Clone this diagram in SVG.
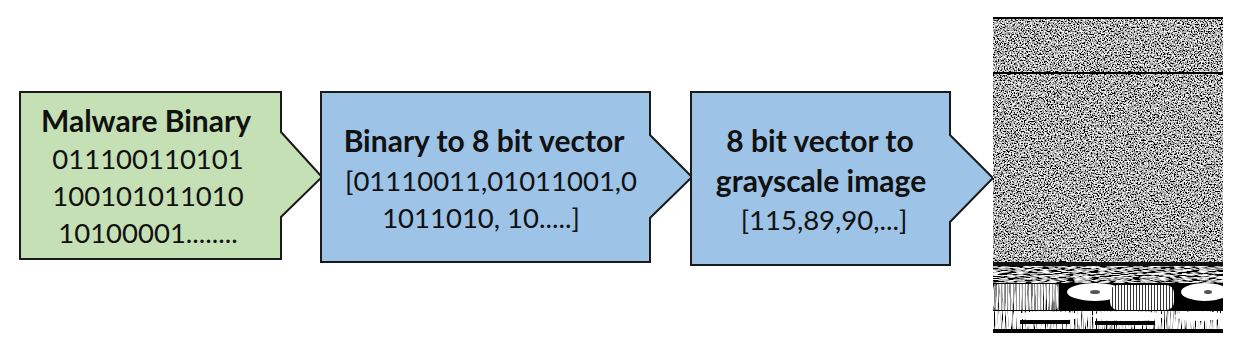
<svg xmlns="http://www.w3.org/2000/svg" width="1246" height="346" viewBox="0 0 1246 346">
<style>
.box{stroke:#1a1a1a;stroke-width:2;stroke-linejoin:miter}
.green{fill:#C5E0B4}
.blue{fill:#9DC3E6}
.t{font-family:Lato,"Liberation Sans",sans-serif;fill:#111;text-anchor:middle}
.b{font-weight:bold;font-size:30px}
.r{font-size:27.5px}
</style>
<defs>
<filter id="noise" filterUnits="objectBoundingBox" x="0" y="0" width="1" height="1">
<feTurbulence type="fractalNoise" baseFrequency="0.7" numOctaves="2" seed="7" result="t"/>
<feColorMatrix in="t" type="matrix" values="1 0 0 0 0  1 0 0 0 0  1 0 0 0 0  0 0 0 0 1"/>
<feComponentTransfer>
<feFuncR type="linear" slope="3.4" intercept="-1.25"/>
<feFuncG type="linear" slope="3.4" intercept="-1.25"/>
<feFuncB type="linear" slope="3.4" intercept="-1.25"/>
</feComponentTransfer>
</filter>
<filter id="vstripe" filterUnits="objectBoundingBox" x="0" y="0" width="1" height="1">
<feTurbulence type="fractalNoise" baseFrequency="0.9 0.04" numOctaves="2" seed="4" result="t"/>
<feColorMatrix in="t" type="matrix" values="1 0 0 0 0  1 0 0 0 0  1 0 0 0 0  0 0 0 0 1"/>
<feComponentTransfer>
<feFuncR type="linear" slope="5" intercept="-1.6"/>
<feFuncG type="linear" slope="5" intercept="-1.6"/>
<feFuncB type="linear" slope="5" intercept="-1.6"/>
</feComponentTransfer>
</filter>
<filter id="hstripe" filterUnits="objectBoundingBox" x="0" y="0" width="1" height="1">
<feTurbulence type="fractalNoise" baseFrequency="0.12 0.9" numOctaves="2" seed="9" result="t"/>
<feColorMatrix in="t" type="matrix" values="1 0 0 0 0  1 0 0 0 0  1 0 0 0 0  0 0 0 0 1"/>
<feComponentTransfer>
<feFuncR type="linear" slope="4" intercept="-1.6"/>
<feFuncG type="linear" slope="4" intercept="-1.6"/>
<feFuncB type="linear" slope="4" intercept="-1.6"/>
</feComponentTransfer>
</filter>
<pattern id="vl" width="3" height="4" patternUnits="userSpaceOnUse">
<rect width="3" height="4" fill="#fff"/>
<rect x="2" width="1" height="4" fill="#333"/>
</pattern>
</defs>
<rect width="1246" height="346" fill="#fff"/>

<g id="node-malware-binary">
<polygon class="box green" points="20,92 281,92 281,132 322,177 281,217 281,259 20,259"/>
<text class="t b" x="146" y="132">Malware Binary</text>
<text class="t r" x="148" y="169">011100110101</text>
<text class="t r" x="148" y="206">100101011010</text>
<text class="t r" x="148" y="243">10100001........</text>
</g>

<g id="node-binary-to-vector">
<polygon class="box blue" points="321,92 650,92 650,135 692,177 650,218 650,262 321,262"/>
<text class="t b" x="484" y="152">Binary to 8 bit vector</text>
<text class="t r" x="491" y="191">[01110011,01011001,0</text>
<text class="t r" x="481" y="228">1011010, 10.....]</text>
</g>

<g id="node-vector-to-image">
<polygon class="box blue" points="691,92 950,92 950,135 993,178 950,222 950,265 691,265"/>
<text class="t b" x="820" y="152">8 bit vector to</text>
<text class="t b" x="821" y="192">grayscale image</text>
<text class="t r" x="824" y="230">[115,89,90,...]</text>
</g>

<g id="node-grayscale-image">
<rect x="993" y="17" width="230" height="316" fill="#888"/>
<rect x="993" y="18" width="230" height="246" filter="url(#noise)"/>
<rect x="993" y="17" width="230" height="2" fill="#000"/>
<rect x="993" y="72" width="230" height="2" fill="#000"/>
<rect x="993" y="262" width="230" height="4" fill="#111"/>
<rect x="993" y="266" width="230" height="17" filter="url(#hstripe)"/>
<rect x="993" y="283" width="230" height="50" fill="#000"/>
<rect x="993" y="284" width="66" height="26" rx="6" fill="url(#vl)"/>
<rect x="993" y="284" width="66" height="26" rx="6" filter="url(#vstripe)" opacity="0.5"/>
<ellipse cx="1095" cy="292" rx="28" ry="9" fill="#fff"/>
<ellipse cx="1095" cy="292" rx="5" ry="2" fill="#555"/>
<rect x="1110" y="285" width="64" height="25" rx="8" fill="url(#vl)"/>
<ellipse cx="1205" cy="292" rx="24" ry="9" fill="#fff"/>
<ellipse cx="1208" cy="292" rx="4" ry="2" fill="#555"/>
<rect x="993" y="311" width="230" height="18" filter="url(#vstripe)"/>
<ellipse cx="1048" cy="316" rx="33" ry="5" fill="#fff"/>
<ellipse cx="1128" cy="316" rx="36" ry="5" fill="#fff"/>
<ellipse cx="1200" cy="316" rx="25" ry="5" fill="#fff"/>
<rect x="1020" y="320" width="50" height="4" fill="#000"/>
<rect x="1095" y="321" width="60" height="4" fill="#000"/>
<rect x="993" y="330" width="230" height="3" fill="#000"/>
</g>

<g id="connectors"/>
</svg>
